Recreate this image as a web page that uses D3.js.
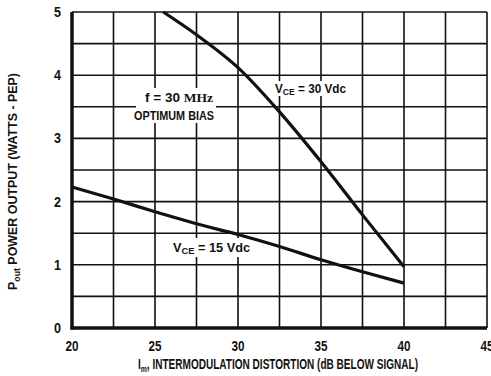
<!DOCTYPE html>
<html>
<head>
<meta charset="utf-8">
<script src="https://cdn.jsdelivr.net/npm/d3@7"></script>
<style>
  body { margin: 0; background: #fff; }
  text { font-family: "Liberation Sans", "DejaVu Sans", sans-serif; font-weight: bold; fill: #111; }
</style>
</head>
<body>
<div id="chart"></div>
<script>
// data
const xTicks = [20, 25, 30, 35, 40, 45];
const yTicks = [0, 1, 2, 3, 4, 5];

const vce30Im = [25.5, 27.5, 30, 32.5, 35, 37.5, 40];
const vce30Pout = [5.0, 4.64, 4.12, 3.42, 2.63, 1.79, 0.97];

const vce15Im = [20, 22.5, 25, 27.5, 30, 32.5, 35, 37.5, 40];
const vce15Pout = [2.23, 2.04, 1.84, 1.65, 1.48, 1.29, 1.08, 0.89, 0.71];

const W = 491, H = 376;
const margin = { top: 12, right: 4, bottom: 48, left: 72 };

const svg = d3.select("#chart").append("svg")
    .attr("width", W)
    .attr("height", H);

const x = d3.scaleLinear().domain([20, 45]).range([margin.left, W - margin.right]);
const y = d3.scaleLinear().domain([0, 5]).range([H - margin.bottom, margin.top]);

// squeeze text to the condensed face of the original
function squeeze(sel, len) {
    return sel.attr("textLength", len).attr("lengthAdjust", "spacingAndGlyphs");
}

// grid every 2.5 dB and 0.5 W
const gx = d3.range(20, 45.01, 2.5);
const gy = d3.range(0, 5.01, 0.5);

const grid = svg.append("g").attr("stroke", "#111").attr("stroke-width", 1.6);
grid.selectAll(".vx").data(gx).enter().append("line")
    .attr("x1", d => x(d)).attr("x2", d => x(d))
    .attr("y1", y(0)).attr("y2", y(5));
grid.selectAll(".hy").data(gy).enter().append("line")
    .attr("x1", x(20)).attr("x2", x(45))
    .attr("y1", d => y(d)).attr("y2", d => y(d));

// heavy left and bottom axes
svg.append("line").attr("x1", x(20)).attr("x2", x(20)).attr("y1", y(0) + 1.5).attr("y2", y(5))
    .attr("stroke", "#111").attr("stroke-width", 3.5);
svg.append("line").attr("x1", x(20) - 1.5).attr("x2", x(45)).attr("y1", y(0)).attr("y2", y(0))
    .attr("stroke", "#111").attr("stroke-width", 3.5);

// tick labels
svg.selectAll(".xt").data(xTicks).enter().append("text")
    .attr("x", d => x(d) - 6.5).attr("y", y(0) + 23)
    .attr("font-size", 14.5)
    .attr("textLength", 13).attr("lengthAdjust", "spacingAndGlyphs")
    .text(d => d);
svg.selectAll(".yt").data(yTicks).enter().append("text")
    .attr("x", x(20) - 18).attr("y", d => y(d) + 5)
    .attr("font-size", 14.5)
    .attr("textLength", 7).attr("lengthAdjust", "spacingAndGlyphs")
    .text(d => d);

// white patches behind the in-plot labels
function patch(x0, y0, w, h) {
    svg.append("rect").attr("x", x0).attr("y", y0).attr("width", w).attr("height", h).attr("fill", "#fff");
}
patch(136, 88, 80, 35);
patch(272, 81, 77, 15);
patch(170, 238, 83, 19);

// curves
const line = d3.line().x(d => x(d[0])).y(d => y(d[1])).curve(d3.curveMonotoneX);
svg.append("path")
    .attr("d", line(d3.zip(vce30Im, vce30Pout)))
    .attr("fill", "none").attr("stroke", "#111").attr("stroke-width", 3.2);
svg.append("path")
    .attr("d", line(d3.zip(vce15Im, vce15Pout)))
    .attr("fill", "none").attr("stroke", "#111").attr("stroke-width", 3.2);

// annotations
const t1 = squeeze(svg.append("text").attr("x", 145).attr("y", 102).attr("font-size", 13), 68);
t1.append("tspan").text("f =  30 ");
t1.append("tspan").attr("font-family", "Liberation Serif").text("MHz");
squeeze(svg.append("text").attr("x", 134).attr("y", 120).attr("font-size", 13), 80)
    .text("OPTIMUM BIAS");

function vceLabel(px, py, txt, len) {
    const t = squeeze(svg.append("text").attr("x", px).attr("y", py).attr("font-size", 13), len);
    t.append("tspan").text("V");
    t.append("tspan").attr("font-size", 9.5).attr("dy", 2).text("CE");
    t.append("tspan").attr("dy", -2).text(" " + txt);
}
vceLabel(275, 93, "=  30 Vdc", 71);
vceLabel(173, 252, "=  15 Vdc", 77);

// axis titles
const xl = squeeze(svg.append("text").attr("x", 138).attr("y", 369).attr("font-size", 14), 280);
xl.append("tspan").text("I");
xl.append("tspan").attr("font-size", 9.5).attr("dy", 3).text("m");
xl.append("tspan").attr("dy", -3).text(", INTERMODULATION DISTORTION (dB BELOW SIGNAL)");

const yl = squeeze(svg.append("text")
    .attr("transform", "translate(17,290) rotate(-90)")
    .attr("font-size", 13.5), 217);
yl.append("tspan").text("P");
yl.append("tspan").attr("font-size", 9.5).attr("dy", 3).text("out");
yl.append("tspan").attr("dy", -3).text("  POWER OUTPUT (WATTS - PEP)");
</script>
</body>
</html>
